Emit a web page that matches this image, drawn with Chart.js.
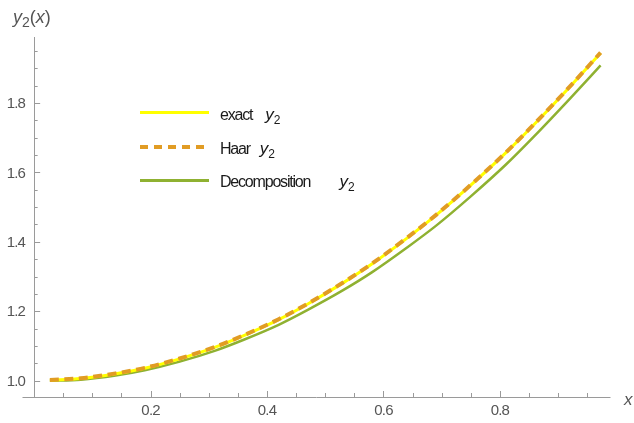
<!DOCTYPE html>
<html>
<head>
<meta charset="utf-8">
<script src="https://cdn.jsdelivr.net/npm/chart.js@4.4.1/dist/chart.umd.min.js"></script>
<style>
body { margin: 0; background: #fff; }
#wrap { position: relative; width: 634px; height: 423px; overflow: hidden; }
#plot { position: absolute; left: 0; top: 0; }
.txt { position: absolute; font-family: "Liberation Sans", Arial, sans-serif; white-space: nowrap; line-height: 1; }
.ax { color: #555; font-size: 15px; }
.leg { color: #1a1a1a; font-size: 16px; letter-spacing: -1.2px; }
.it { font-style: italic; letter-spacing: 0; }
.sub { font-size: 12px; position: relative; top: 4px; font-style: normal; }
.swatch { position: absolute; left: 140px; width: 69px; }
</style>
</head>
<body>
<div id="wrap">
  <canvas id="plot" width="634" height="423"></canvas>

  <!-- axis titles -->
  <div class="txt ax" style="left:13px; top:8px;"><span class="it" style="font-size:18px;">y</span><span class="sub" style="font-size:14px;">2</span><span style="font-size:18px;">(<span class="it">x</span>)</span></div>
  <div class="txt ax" style="left:624px; top:391px;"><span class="it" style="font-size:17px;">x</span></div>

  <!-- legend -->
  <div class="swatch" style="top:111px; height:3px; background:#ffff00;"></div>
  <div class="swatch" style="top:145px; height:4px; background:repeating-linear-gradient(90deg,#e19c24 0 8.5px,transparent 8.5px 14px);"></div>
  <div class="swatch" style="top:179px; height:3px; background:#8fb131;"></div>
  <div class="txt leg" style="left:220px; top:106px;">exact&nbsp;&nbsp;&nbsp; <span class="it" style="font-size:17px;">y</span><span class="sub">2</span></div>
  <div class="txt leg" style="left:220px; top:140px;">Haar&nbsp;&nbsp; <span class="it" style="font-size:17px;">y</span><span class="sub">2</span></div>
  <div class="txt leg" style="left:220px; top:173px;">Decomposition&nbsp;&nbsp;&nbsp;&nbsp;&nbsp;&nbsp;&nbsp;&nbsp; <span class="it" style="font-size:17px;">y</span><span class="sub">2</span></div>
</div>

<script>
// values
const xVals   = [0.027, 0.08, 0.14, 0.19, 0.25, 0.31, 0.36, 0.42, 0.47, 0.53, 0.58, 0.64, 0.69, 0.75, 0.81, 0.86, 0.92, 0.973];
const exactY  = [1.001, 1.006, 1.020, 1.036, 1.063, 1.096, 1.130, 1.176, 1.221, 1.281, 1.336, 1.410, 1.476, 1.563, 1.656, 1.740, 1.846, 1.944];
const haarY   = [1.002, 1.007, 1.021, 1.037, 1.064, 1.097, 1.131, 1.177, 1.222, 1.282, 1.337, 1.411, 1.477, 1.564, 1.657, 1.741, 1.847, 1.945];
const decompY = [1.000, 1.003, 1.015, 1.030, 1.055, 1.086, 1.118, 1.161, 1.204, 1.260, 1.312, 1.383, 1.446, 1.531, 1.622, 1.706, 1.812, 1.908];

const xTicks = [0.2, 0.4, 0.6, 0.8];
const yTicks = [1.0, 1.2, 1.4, 1.6, 1.8];
const minorStep = 0.05;

const pts = ys => xVals.map((x, i) => ({ x: x, y: ys[i] }));

// draws Mathematica-like axes: lines, inward ticks and labels
const axesPlugin = {
    id: 'mmaAxes',
    afterDatasetsDraw(chart) {
        const ctx = chart.ctx;
        const sx = chart.scales.x, sy = chart.scales.y;
        const area = chart.chartArea;
        const x0 = sx.getPixelForValue(0);
        const yb = area.bottom;

        ctx.save();
        ctx.strokeStyle = '#9a9a9a';
        ctx.lineWidth = 1;
        ctx.beginPath();
        ctx.moveTo(area.left, yb + 0.5); ctx.lineTo(area.right, yb + 0.5);
        ctx.moveTo(Math.round(x0) + 0.5, area.top); ctx.lineTo(Math.round(x0) + 0.5, yb + 1);
        ctx.stroke();

        // x ticks
        ctx.beginPath();
        for (let v = minorStep; v < sx.max; v += minorStep) {
            const px = Math.round(sx.getPixelForValue(v)) + 0.5;
            const major = xTicks.some(t => Math.abs(t - v) < 1e-6);
            ctx.moveTo(px, yb); ctx.lineTo(px, yb - (major ? 6 : 4));
        }
        // y ticks
        for (let v = 1.0; v < sy.max; v += minorStep) {
            const py = Math.round(sy.getPixelForValue(v)) + 0.5;
            const major = yTicks.some(t => Math.abs(t - v) < 1e-6);
            ctx.moveTo(x0, py); ctx.lineTo(x0 + (major ? 6 : 3.5), py);
        }
        ctx.stroke();

        ctx.fillStyle = '#555';
        ctx.font = '15px "Liberation Sans", Arial, sans-serif';
        if ('letterSpacing' in ctx) ctx.letterSpacing = '-0.8px';
        ctx.textAlign = 'center';
        ctx.textBaseline = 'top';
        xTicks.forEach(t => ctx.fillText(t.toFixed(1), sx.getPixelForValue(t), yb + 6));
        ctx.textAlign = 'right';
        ctx.textBaseline = 'middle';
        yTicks.forEach(t => ctx.fillText(t.toFixed(1), x0 - 9, sy.getPixelForValue(t) + 1));
        ctx.restore();
    }
};

new Chart(document.getElementById('plot'), {
    type: 'line',
    data: {
        datasets: [
            { label: 'exact y2', data: pts(exactY), borderColor: '#ffff00', borderWidth: 3, order: 2 },
            { label: 'Haar y2', data: pts(haarY), borderColor: '#e19c24', borderWidth: 4, borderDash: [9, 5.5], order: 1 },
            { label: 'Decomposition y2', data: pts(decompY), borderColor: '#8fb131', borderWidth: 2.5, order: 3 }
        ]
    },
    options: {
        responsive: false,
        animation: false,
        events: [],
        layout: { padding: { left: 22.5, right: 23.5, top: 37, bottom: 26 } },
        elements: { point: { radius: 0 }, line: { cubicInterpolationMode: 'monotone', fill: false } },
        plugins: { legend: { display: false }, tooltip: { enabled: false } },
        scales: {
            x: { type: 'linear', min: -0.02, max: 0.99, display: false },
            y: { type: 'linear', min: 0.953, max: 1.99, display: false }
        }
    },
    plugins: [axesPlugin]
});
</script>
</body>
</html>
